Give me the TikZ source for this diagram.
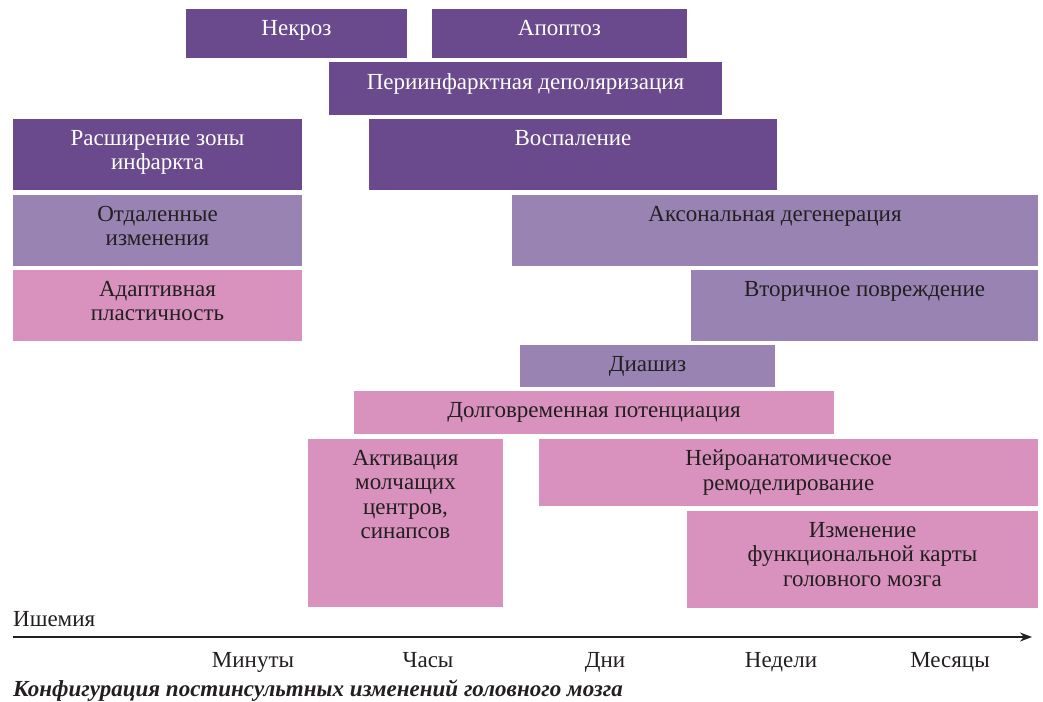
\documentclass[tikz,border=0pt]{standalone}
\usepackage{fontspec}
\setmainfont{Liberation Serif}
\usepackage{tikz}
\usetikzlibrary{arrows.meta}
\definecolor{violetfonce}{HTML}{6A4A8C}
\definecolor{lavande}{HTML}{9883B2}
\definecolor{rose}{HTML}{D992BD}
\definecolor{encre}{HTML}{231F20}

\begin{document}
\begin{tikzpicture}[x=1pt,y=-1pt,
  font=\fontsize{23}{24.5}\selectfont,
  bar/.style={anchor=north west,inner sep=0pt,outer sep=0pt},
  aigu/.style={bar,fill=violetfonce},
  tardif/.style={bar,fill=lavande},
  plast/.style={bar,fill=rose},
  txt/.style={anchor=north,align=center,inner sep=0pt,text=encre},
  wtxt/.style={txt,text=white}
]
\useasboundingbox (0,0) rectangle (1043,701);
% ---- phase aigue ----
\node[aigu,minimum width=221pt,minimum height=49pt] (necrose) at (186,9) {};
\node[wtxt] at ([yshift=-11pt]necrose.north) {Некроз};
\node[aigu,minimum width=255pt,minimum height=49pt] (apoptose) at (432,9) {};
\node[wtxt] at ([yshift=-11pt]apoptose.north) {Апоптоз};
\node[aigu,minimum width=393pt,minimum height=53pt] (depol) at (329,62) {};
\node[wtxt] at ([yshift=-11pt]depol.north) {Периинфарктная деполяризация};
\node[aigu,minimum width=289pt,minimum height=71pt] (extension) at (13,119) {};
\node[wtxt] at ([yshift=-11pt]extension.north) {Расширение зоны\\инфаркта};
\node[aigu,minimum width=408pt,minimum height=71pt] (inflam) at (369,119) {};
\node[wtxt] at ([yshift=-11pt]inflam.north) {Воспаление};
% ---- changements a distance ----
\node[tardif,minimum width=289pt,minimum height=71pt] (distance) at (13,195) {};
\node[txt] at ([yshift=-11pt]distance.north) {Отдаленные\\изменения};
\node[tardif,minimum width=526pt,minimum height=71pt] (axonal) at (512,195) {};
\node[txt] at ([yshift=-11pt]axonal.north) {Аксональная дегенерация};
\node[tardif,minimum width=347pt,minimum height=71pt] (secondaire) at (691,270) {};
\node[txt] at ([yshift=-11pt]secondaire.north) {Вторичное повреждение};
\node[tardif,minimum width=255pt,minimum height=42pt] (diaschisis) at (520,345) {};
\node[txt] at ([yshift=-11pt]diaschisis.north) {Диашиз};
% ---- plasticite ----
\node[plast,minimum width=289pt,minimum height=71pt] (adaptive) at (13,270) {};
\node[txt] at ([yshift=-11pt]adaptive.north) {Адаптивная\\пластичность};
\node[plast,minimum width=480pt,minimum height=43pt] (ltp) at (354,391) {};
\node[txt] at ([yshift=-11pt]ltp.north) {Долговременная потенциация};
\node[plast,minimum width=195pt,minimum height=168pt] (activation) at (308,439) {};
\node[txt] at ([yshift=-11pt]activation.north) {Активация\\молчащих\\центров,\\синапсов};
\node[plast,minimum width=499pt,minimum height=67pt] (remodel) at (539,439) {};
\node[txt] at ([yshift=-11pt]remodel.north) {Нейроанатомическое\\ремоделирование};
\node[plast,minimum width=351pt,minimum height=97pt] (carte) at (687,511) {};
\node[txt] at ([yshift=-11pt]carte.north) {Изменение\\функциональной карты\\головного мозга};
% ---- axe du temps ----
\coordinate (t0) at (13,637);
\coordinate (t1) at (1032,637);
\draw[encre,line width=1.2pt,-{Stealth[length=12pt,width=9pt]}] (t0) -- (t1);
\node[anchor=base west,inner sep=0pt,text=encre] (ischemie) at (13,626) {Ишемия};
\foreach \x/\t/\nom in {253/Минуты/minutes, 428/Часы/heures, 605/Дни/jours, 781/Недели/semaines, 950/Месяцы/mois}{
  \node[anchor=base,inner sep=0pt,text=encre] (\nom) at (\x,667) {\t};
}
\node[anchor=base west,inner sep=0pt,text=encre,font=\fontsize{23}{24}\selectfont\bfseries\itshape] (legende) at (13,696)
  {Конфигурация постинсультных изменений головного мозга};
\end{tikzpicture}
\end{document}
